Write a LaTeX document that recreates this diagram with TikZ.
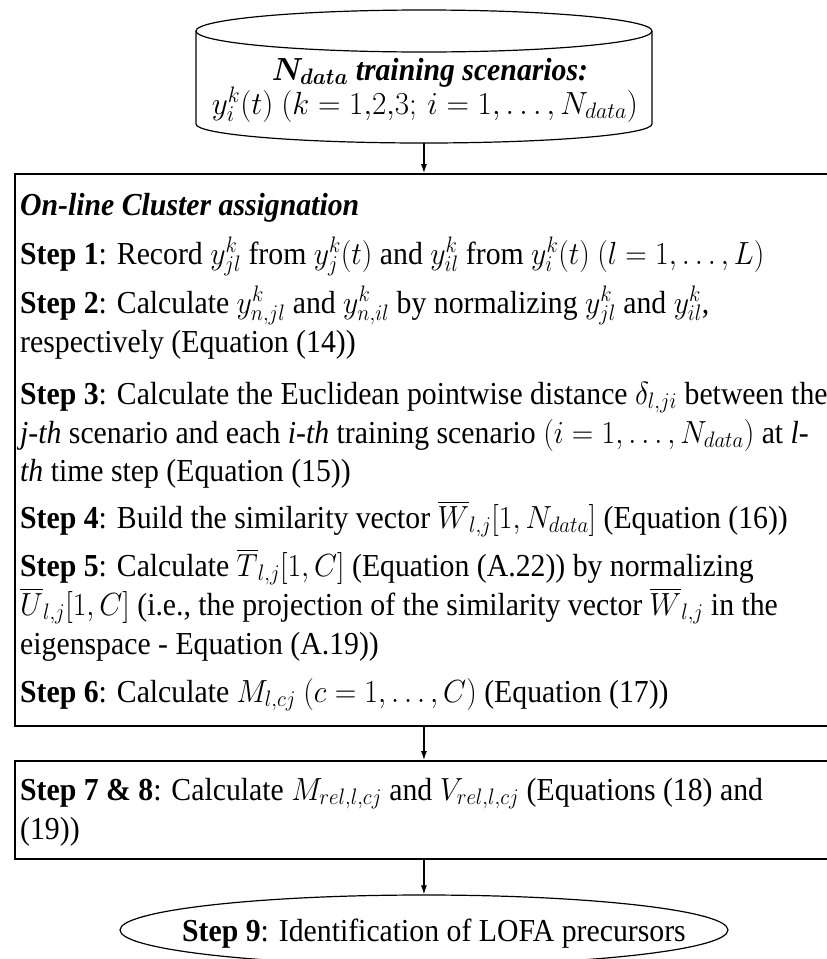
\RequirePackage{fix-cm}
\documentclass[tikz,border=0pt]{standalone}
\usepackage{amsmath}
\usepackage{bm}
\usepackage{fontspec}
\setmainfont{Liberation Serif}
\usetikzlibrary{shapes.geometric,arrows.meta}
\def\s{0.93}
\begin{document}
\begin{tikzpicture}[x=1pt,y=-1pt,xscale=\s,transform shape,
  txt/.style={anchor=base west,inner sep=0pt,font=\fontsize{32}{38}\selectfont},
  ctxt/.style={anchor=base,inner sep=0pt,font=\fontsize{32}{38}\selectfont},
  frame/.style={draw,line width=1.6pt,rectangle,anchor=north west,inner sep=0pt},
  arr/.style={-{Latex[length=9pt,width=6pt]},line width=1.1pt}]
\path[use as bounding box] (0,0) rectangle ({827/\s},959);
\clip (0,0) rectangle ({827/\s},959);
% cylinder
\node[inner sep=0pt,minimum width={456pt/\s},minimum height=133pt] (cyl) at ({424/\s},76.5) {};
\draw[line width=1.2pt] ({196/\s},31) -- ({196/\s},124)
  arc[start angle=180,end angle=0,x radius={228/\s},y radius=19] -- ({652/\s},31);
\draw[line width=1.2pt] ({424/\s},31) ellipse[x radius={228/\s},y radius=21];
\node[ctxt] (c1) at ({430/\s},80) {$\bm{N_{data}}$ \textbf{\textit{training scenarios:}}};
\node[ctxt] (c2) at ({425/\s},114) {\scalebox{1.05}[1]{$y_i^k(t)$ $(k=1{,}2{,}3;\, i=1,\ldots,N_{data})$}};
% box 1
\node[frame,minimum width={900pt/\s},minimum height=552pt] (box1) at ({14/\s},173) {};
\node[txt] (b1l0) at ({20/\s},215) {\textbf{\textit{On-line Cluster assignation}}};
\node[txt] (b1l1) at ({20/\s},264) {\textbf{Step 1}: Record $y^k_{jl}$ from $y^k_j(t)$ and $y^k_{il}$ from $y^k_i(t)$ $(l = 1, \ldots, L)$};
\node[txt] (b1l2) at ({20/\s},313) {\textbf{Step 2}: Calculate $y^k_{n,jl}$ and $y^k_{n,il}$ by normalizing $y^k_{jl}$ and $y^k_{il}$,};
\node[txt] (b1l3) at ({20/\s},352) {respectively (Equation (14))};
\node[txt] (b1l4) at ({20/\s},404) {\textbf{Step 3}: Calculate the Euclidean pointwise distance $\delta_{l,ji}$ between the};
\node[txt] (b1l5) at ({20/\s},443) {\textit{j-th} scenario and each \textit{i-th} training scenario $(i = 1, \ldots, N_{data})$ at \textit{l-}};
\node[txt] (b1l6) at ({20/\s},481) {\textit{th} time step (Equation (15))};
\node[txt] (b1l7) at ({20/\s},528) {\textbf{Step 4}: Build the similarity vector $\overline{W}_{l,j}[1, N_{data}]$ (Equation (16))};
\node[txt] (b1l8) at ({20/\s},576) {\textbf{Step 5}: Calculate $\overline{T}_{l,j}[1, C]$ (Equation (A.22)) by normalizing};
\node[txt] (b1l9) at ({20/\s},615) {$\overline{U}_{l,j}[1, C]$ (i.e., the projection of the similarity vector $\overline{W}_{l,j}$ in the};
\node[txt] (b1l10) at ({20/\s},654) {eigenspace - Equation (A.19))};
\node[txt] (b1l11) at ({20/\s},702) {\textbf{Step 6}: Calculate $M_{l,cj}$ $(c = 1, \ldots, C)$ (Equation (17))};
% box 2
\node[frame,minimum width={900pt/\s},minimum height=98pt] (box2) at ({14/\s},760) {};
\node[txt] (b2l1) at ({20/\s},800) {\textbf{Step 7 \& 8}: Calculate $M_{rel,l,cj}$ and $V_{rel,l,cj}$ (Equations (18) and};
\node[txt] (b2l2) at ({20/\s},839) {(19))};
% ellipse
\node[ellipse,draw,line width=1.2pt,inner sep=0pt,minimum width={608pt/\s},minimum height=70pt] (step9) at ({424/\s},930) {};
\node[ctxt] (s9) at ({434/\s},941) {\textbf{Step 9}: Identification of LOFA precursors};
% connectors
\draw[arr] (cyl.south) -- (cyl.south |- box1.north);
\draw[arr] (cyl.south |- box1.south) -- (cyl.south |- box2.north);
\draw[arr] (cyl.south |- box2.south) -- (step9.north);
\end{tikzpicture}
\end{document}
